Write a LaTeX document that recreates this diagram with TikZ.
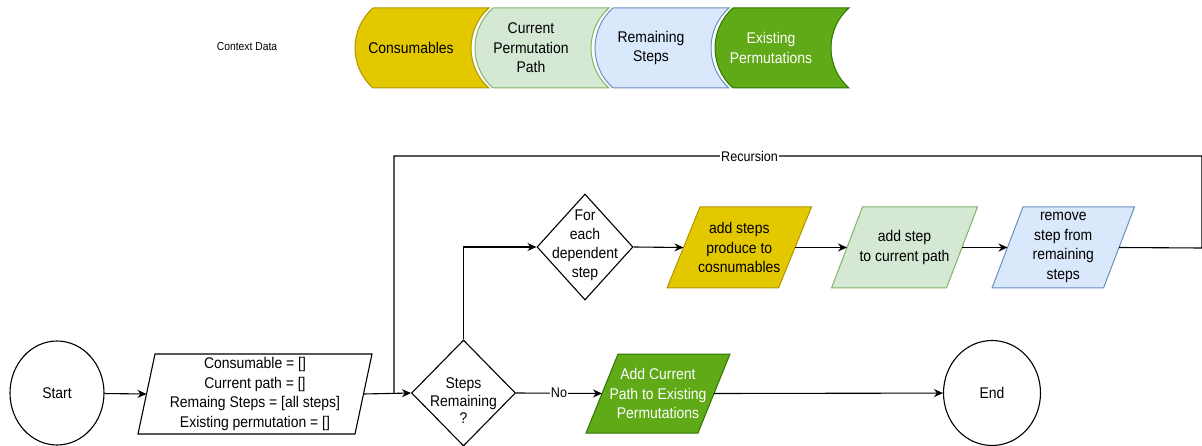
\documentclass[tikz,border=0pt]{standalone}
\usepackage{fontspec}
\setmainfont[FakeStretch=0.9]{Liberation Sans}
\usetikzlibrary{shapes.geometric,arrows.meta}
\definecolor{yelfill}{HTML}{E3C800}
\definecolor{yelline}{HTML}{B09500}
\definecolor{grnfill}{HTML}{D5E8D4}
\definecolor{grnline}{HTML}{82B366}
\definecolor{bluefill}{HTML}{DAE8FC}
\definecolor{blueline}{HTML}{6C8EBF}
\definecolor{dgfill}{HTML}{60A917}
\definecolor{dgline}{HTML}{2D7600}
\tikzset{
  txt/.style={align=center, inner sep=0pt, font=\fontsize{15.5}{19.5}\selectfont},
  lbl/.style={fill=white, inner sep=1pt, font=\fontsize{14}{16}\selectfont},
  outl/.style={draw=black, line width=1.1pt},
  conn/.style={draw=black, line width=1.1pt, -{Stealth[length=9pt,width=8pt]}},
  plain/.style={draw=black, line width=1.1pt},
}
\newcommand{\ctxshape}[6]{%
  \draw[fill=#3, draw=#4, line width=1pt] (#2,8) -- ({#2+116},8) .. controls ({#2+92},29) and ({#2+92},67) .. ({#2+116},88) -- (#2,88) .. controls ({#2-24},67) and ({#2-24},29) .. (#2,8) -- cycle;
  \node[txt, text=#5] (#1) at ({#2+38},48) {#6};
}
\newcommand{\parabox}[9]{%
  \draw[#7] ({#2-#4/2+#6/2},{#3-#5/2}) -- ({#2+#4/2+#6/2},{#3-#5/2}) -- ({#2+#4/2-#6/2},{#3+#5/2}) -- ({#2-#4/2-#6/2},{#3+#5/2}) -- cycle;
  \node[txt, text=#9] (#1) at (#2,#3) {#8};
  \coordinate (#1-w) at ({#2-#4/2},#3);
  \coordinate (#1-e) at ({#2+#4/2},#3);
}
\begin{document}
\begin{tikzpicture}[x=1pt, y=-1pt]
\useasboundingbox (0,0) rectangle (1202,446);

% context data
\node[txt, font=\fontsize{11.5}{13}\selectfont] (ctx) at (247,47) {Context Data};
\ctxshape{cons}{373}{yelfill}{yelline}{black}{Consumables}
\ctxshape{cpp}{493}{grnfill}{grnline}{black}{Current\\Permutation\\Path}
\ctxshape{rs}{613}{bluefill}{blueline}{black}{Remaining\\Steps}
\ctxshape{ep}{733}{dgfill}{dgline}{white}{Existing\\Permutations}

% flow
\node[ellipse, outl, txt, minimum width=94pt, minimum height=104pt] (start) at (57,393) {Start};
\parabox{init}{255}{394}{217}{80}{17}{outl, fill=white}{Consumable = []\\Current path = []\\Remaing Steps = [all steps]\\Existing permutation = []}{black}

\node[diamond, outl, inner sep=0pt, minimum width=104pt, minimum height=106pt] (rem) at (463.5,393) {};
\node[txt, font=\fontsize{15.5}{17.5}\selectfont] (remt) at (463.5,401) {Steps\\Remaining\\?};

\node[diamond, outl, inner sep=0pt, minimum width=96pt, minimum height=106pt] (dep) at (585,247) {};
\node[txt, font=\fontsize{15.5}{19}\selectfont] (dept) at (585,245) {For\\each\\dependent\\step};

\parabox{adds}{739.25}{247.5}{111.5}{81}{33}{draw=yelline, line width=1pt, fill=yelfill}{add steps\\produce to\\cosnumables}{black}
\parabox{addp}{904.5}{247.5}{115}{81}{31}{draw=grnline, line width=1pt, fill=grnfill}{add step\\to current path}{black}
\parabox{remv}{1063.25}{247.5}{111.5}{81}{31}{draw=blueline, line width=1pt, fill=bluefill}{remove\\step from\\remaining\\steps}{black}

\parabox{addc}{658}{393.5}{112}{79}{32}{draw=dgline, line width=1pt, fill=dgfill}{Add Current\\Path to Existing\\Permutations}{white}

\node[ellipse, outl, txt, minimum width=97pt, minimum height=105pt] (end) at (992,393) {End};

% recursion coordinates
\coordinate (rc1) at (1202,248);
\coordinate (rc2) at (1202,156);
\coordinate (rc3) at (394,156);
\coordinate (rc4) at (394,393);

% connectors
\draw[conn] (start) -- (init-w);
\draw[conn] (init-e) -- (rem.west);
\draw[conn] (rem.north) |- (dep.west);
\draw[conn] (dep.east) -- (adds-w);
\draw[conn] (adds-e) -- (addp-w);
\draw[conn] (addp-e) -- (remv-w);
\draw[plain] (remv-e) -- (rc1) -- (rc2) -- node[lbl, pos=0.56] {Recursion} (rc3) -- (rc4);
\draw[conn] (rem.east) -- node[lbl] {No} (addc-w);
\draw[conn] (addc-e) -- (end);
\end{tikzpicture}
\end{document}
